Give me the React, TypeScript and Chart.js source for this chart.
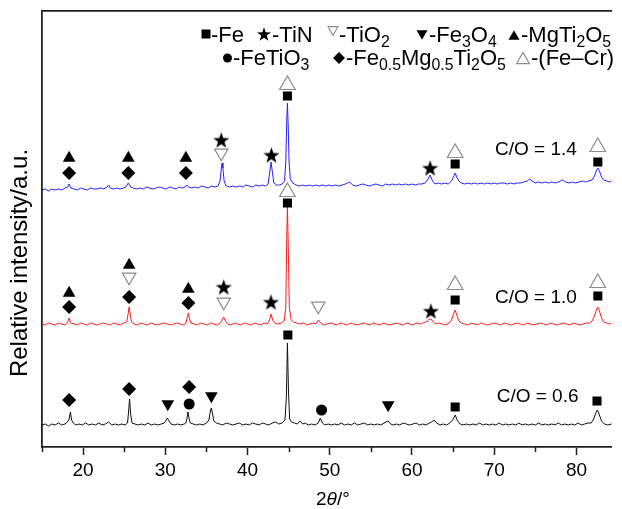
import React, { useEffect, useRef } from "react";
import { Chart, registerables } from "chart.js";

Chart.register(...registerables);

const W = 622;
const H = 509;
const FONT = '"Liberation Sans", Arial, Helvetica, sans-serif';

// ---- axes ----
const xMin = 15;
const xMax = 84.3;
const yMin = 0;
const yMax = 436;
const majorTicks = [20, 30, 40, 50, 60, 70, 80];
const minorTicks = [15, 25, 35, 45, 55, 65, 75];
const xTitle = ["2", "θ", "/°"];
const yTitle = "Relative intensity/a.u.";
const sampleLabels = ["C/O = 0.6", "C/O = 1.0", "C/O = 1.4"];

// ---- traces: [2θ (°), relative intensity (a.u.)] ----
const trace06: [number, number][] = [
  [15, 22], [15.4, 23], [15.8, 21], [16.2, 23], [16.6, 22], [17, 24], [17.4, 22], [17.8, 23], [18.1, 25], [18.3, 28], [18.45, 35], [18.6, 27], [18.8, 24], [19.1, 22], [19.5, 23], [19.9, 22], [20.3, 24], [20.7, 22], [21.1, 23], [21.5, 22], [21.9, 24], [22.3, 22], [22.7, 23], [23.1, 25], [23.5, 22], [23.9, 23], [24.3, 22], [24.7, 23], [25.1, 22], [25.4, 24], [25.52, 34], [25.65, 48], [25.78, 33], [25.95, 24], [26.3, 23], [26.7, 22], [27.1, 23], [27.5, 22], [27.9, 24], [28.3, 22], [28.7, 23], [29.1, 22], [29.5, 23], [29.85, 24], [30.05, 26], [30.25, 29], [30.45, 26], [30.7, 23], [31.1, 22], [31.5, 23], [31.9, 22], [32.3, 23], [32.5, 24], [32.62, 28], [32.75, 35], [32.9, 28], [33.05, 24], [33.4, 23], [33.8, 22], [34.2, 23], [34.6, 22], [35, 24], [35.3, 27], [35.5, 37], [35.6, 39], [35.75, 33], [35.9, 26], [36.2, 24], [36.6, 23], [37, 22], [37.4, 24], [37.8, 23], [38.2, 22], [38.6, 23], [39, 24], [39.4, 22], [39.8, 23], [40.2, 22], [40.6, 24], [41, 23], [41.4, 22], [41.8, 24], [42.2, 23], [42.6, 22], [43, 24], [43.4, 25], [43.8, 23], [44.2, 24], [44.55, 27], [44.72, 50], [44.85, 104], [44.98, 55], [45.12, 28], [45.35, 25], [45.7, 24], [46.05, 23], [46.4, 26], [46.7, 23], [47, 24], [47.4, 22], [47.8, 23], [48.2, 22], [48.6, 24], [48.85, 29], [49.1, 24], [49.4, 22], [49.8, 23], [50.2, 22], [50.6, 23], [51, 22], [51.4, 24], [51.8, 22], [52.2, 23], [52.6, 22], [53, 24], [53.4, 22], [53.8, 23], [54.2, 24], [54.6, 22], [55, 23], [55.4, 22], [55.8, 23], [56.2, 22], [56.6, 24], [56.85, 25], [57.1, 26], [57.4, 23], [57.7, 22], [58.1, 23], [58.5, 22], [58.9, 24], [59.3, 23], [59.7, 22], [60.1, 23], [60.5, 24], [60.9, 22], [61.3, 23], [61.7, 22], [62.1, 24], [62.4, 25], [62.7, 27], [63, 24], [63.4, 22], [63.8, 23], [64.2, 22], [64.6, 24], [64.95, 27], [65.25, 32], [65.55, 26], [65.85, 23], [66.2, 22], [66.6, 23], [67, 22], [67.4, 23], [67.8, 22], [68.2, 24], [68.6, 22], [69, 23], [69.4, 22], [69.8, 23], [70.2, 22], [70.6, 24], [71, 22], [71.4, 23], [71.8, 22], [72.2, 23], [72.6, 22], [73, 24], [73.4, 22], [73.8, 23], [74.2, 22], [74.6, 23], [75, 22], [75.4, 24], [75.8, 22], [76.2, 23], [76.6, 22], [77, 23], [77.4, 22], [77.8, 24], [78.2, 22], [78.6, 23], [79, 22], [79.4, 23], [79.8, 22], [80.2, 24], [80.6, 22], [81, 23], [81.4, 24], [81.8, 24], [82.1, 28], [82.35, 34], [82.55, 37], [82.75, 33], [83.05, 26], [83.4, 23], [83.8, 22], [84.3, 23],
];

const trace10: [number, number][] = [
  [15, 123], [15.4, 122], [15.8, 124], [16.2, 123], [16.6, 122], [17, 124], [17.4, 123], [17.8, 122], [18.1, 124], [18.3, 129], [18.5, 124], [18.9, 123], [19.3, 122], [19.7, 124], [20.1, 123], [20.5, 122], [20.9, 124], [21.3, 123], [21.7, 122], [22.1, 123], [22.5, 124], [22.9, 123], [23.3, 122], [23.7, 124], [24.1, 123], [24.5, 122], [24.9, 124], [25.3, 125], [25.45, 132], [25.6, 140], [25.75, 131], [25.9, 125], [26.2, 123], [26.6, 122], [27, 124], [27.4, 123], [27.8, 122], [28.2, 124], [28.6, 123], [29, 122], [29.4, 123], [29.8, 124], [30.2, 123], [30.6, 122], [31, 123], [31.4, 124], [31.8, 123], [32.2, 122], [32.5, 124], [32.65, 129], [32.8, 134], [32.95, 128], [33.1, 124], [33.5, 123], [33.9, 122], [34.3, 124], [34.7, 123], [35.1, 122], [35.5, 124], [35.9, 123], [36.3, 122], [36.7, 124], [36.9, 127], [37.1, 130], [37.3, 126], [37.6, 123], [38, 122], [38.4, 124], [38.8, 123], [39.2, 122], [39.6, 124], [40, 123], [40.4, 122], [40.8, 124], [41.2, 123], [41.6, 122], [42, 124], [42.4, 123], [42.65, 126], [42.85, 133], [43.05, 127], [43.3, 124], [43.7, 123], [44.1, 124], [44.45, 126], [44.65, 140], [44.78, 215], [44.85, 240], [44.93, 210], [45.08, 140], [45.3, 127], [45.6, 125], [46, 124], [46.4, 123], [46.8, 124], [47.2, 122], [47.6, 123], [48, 124], [48.3, 123], [48.6, 127], [48.9, 124], [49.3, 122], [49.7, 123], [50.1, 124], [50.5, 123], [50.9, 122], [51.3, 124], [51.7, 123], [52.1, 122], [52.5, 124], [52.9, 123], [53.3, 122], [53.7, 123], [54.1, 124], [54.5, 123], [54.9, 122], [55.3, 124], [55.7, 123], [56.1, 122], [56.5, 124], [56.9, 123], [57.3, 122], [57.7, 123], [58.1, 124], [58.5, 123], [58.9, 122], [59.3, 124], [59.7, 123], [60.1, 122], [60.5, 124], [60.9, 123], [61.3, 124], [61.7, 125], [62, 127], [62.3, 128], [62.6, 125], [62.9, 123], [63.3, 124], [63.7, 123], [64.1, 122], [64.5, 124], [64.8, 127], [65.05, 133], [65.25, 137], [65.45, 132], [65.7, 126], [66, 124], [66.4, 123], [66.8, 122], [67.2, 124], [67.6, 123], [68, 122], [68.4, 124], [68.8, 123], [69.2, 122], [69.6, 123], [70, 124], [70.4, 123], [70.8, 122], [71.2, 124], [71.6, 123], [72, 122], [72.4, 123], [72.8, 124], [73.2, 123], [73.6, 122], [74, 124], [74.4, 123], [74.8, 122], [75.2, 123], [75.6, 124], [76, 123], [76.4, 122], [76.8, 124], [77.2, 123], [77.6, 122], [78, 123], [78.4, 124], [78.8, 123], [79.2, 122], [79.6, 124], [80, 123], [80.4, 122], [80.8, 123], [81.2, 124], [81.6, 124], [81.9, 126], [82.2, 131], [82.45, 138], [82.6, 140], [82.8, 136], [83.05, 129], [83.3, 125], [83.7, 124], [84, 123], [84.3, 124],
];

const trace14: [number, number][] = [
  [15, 257], [15.4, 258], [15.8, 256], [16.2, 258], [16.6, 257], [17, 258], [17.4, 257], [17.8, 259], [18.1, 260], [18.3, 263], [18.5, 259], [18.9, 258], [19.3, 257], [19.7, 259], [20.1, 258], [20.5, 257], [20.9, 259], [21.3, 258], [21.7, 258], [22.1, 259], [22.5, 258], [22.9, 260], [23.1, 262], [23.3, 259], [23.7, 258], [24.1, 259], [24.5, 258], [24.9, 259], [25.2, 260], [25.5, 264], [25.8, 260], [26.1, 259], [26.5, 258], [26.9, 259], [27.3, 258], [27.7, 260], [28.1, 259], [28.5, 258], [28.9, 259], [29.3, 260], [29.7, 259], [30.1, 258], [30.5, 260], [30.9, 259], [31.3, 258], [31.7, 260], [32.1, 259], [32.4, 260], [32.6, 262], [32.8, 260], [33.2, 259], [33.6, 260], [34, 259], [34.4, 261], [34.8, 260], [35.2, 259], [35.6, 261], [36, 260], [36.4, 261], [36.65, 266], [36.8, 278], [36.9, 284], [37, 279], [37.15, 266], [37.4, 261], [37.8, 260], [38.2, 261], [38.6, 260], [39, 261], [39.4, 260], [39.8, 262], [40.2, 261], [40.6, 260], [41, 262], [41.4, 261], [41.8, 262], [42.2, 261], [42.5, 263], [42.7, 275], [42.85, 285], [43, 276], [43.2, 264], [43.5, 262], [43.9, 262], [44.2, 263], [44.5, 266], [44.65, 285], [44.76, 325], [44.85, 344], [44.94, 322], [45.05, 285], [45.2, 268], [45.5, 264], [45.9, 262], [46.3, 261], [46.7, 262], [47.1, 261], [47.5, 262], [47.9, 261], [48.3, 262], [48.7, 261], [49.1, 262], [49.5, 261], [49.9, 262], [50.3, 261], [50.7, 262], [51.1, 261], [51.5, 262], [51.9, 263], [52.4, 265], [52.8, 262], [53.2, 261], [53.6, 262], [54, 263], [54.4, 262], [54.8, 261], [55.2, 262], [55.6, 263], [56, 262], [56.4, 261], [56.8, 263], [57.2, 262], [57.6, 263], [58, 262], [58.4, 263], [58.8, 262], [59.2, 263], [59.6, 262], [60, 263], [60.4, 262], [60.8, 263], [61.2, 263], [61.6, 264], [61.9, 267], [62.2, 272], [62.5, 266], [62.8, 263], [63.2, 264], [63.6, 263], [64, 264], [64.4, 263], [64.8, 266], [65.05, 270], [65.25, 274], [65.45, 270], [65.7, 266], [66, 264], [66.4, 263], [66.8, 264], [67.2, 263], [67.6, 264], [68, 263], [68.4, 264], [68.8, 263], [69.2, 264], [69.6, 263], [70, 264], [70.4, 263], [70.8, 264], [71.2, 264], [71.6, 263], [72, 264], [72.4, 263], [72.8, 264], [73.2, 264], [73.6, 265], [74, 266], [74.3, 268], [74.6, 266], [75, 264], [75.4, 265], [75.8, 264], [76.2, 265], [76.6, 264], [77, 265], [77.4, 264], [77.8, 265], [78.3, 267], [78.7, 265], [79.1, 264], [79.5, 265], [79.9, 264], [80.3, 265], [80.7, 266], [81.1, 265], [81.5, 266], [81.9, 267], [82.2, 271], [82.45, 277], [82.6, 279], [82.8, 276], [83.05, 270], [83.3, 267], [83.7, 266], [84, 265], [84.3, 266],
];

// ---- phase marks: [2θ (°), marker level (a.u.)] ----
const feMarks: [number, number][] = [
  [44.85, 351], [65.25, 283], [82.6, 285],
  [44.85, 244], [65.25, 147], [82.6, 151],
  [44.9, 112], [65.25, 40], [82.5, 46],
];
const tinMarks: [number, number][] = [
  [36.8, 307], [42.9, 292], [62.2, 279],
  [37.1, 160], [42.85, 145], [62.3, 136],
];
const tio2Marks: [number, number][] = [
  [36.8, 294], [25.6, 170], [37.1, 145], [48.6, 141],
];
const fe3o4Marks: [number, number][] = [
  [30.3, 43], [35.6, 51], [57.1, 42],
];
const mgti2o5Marks: [number, number][] = [
  [18.3, 289], [25.5, 289], [32.5, 289],
  [18.3, 154], [25.6, 182], [32.8, 158],
];
const fetio3Marks: [number, number][] = [
  [32.9, 43], [49.0, 37],
];
const femgMarks: [number, number][] = [
  [18.3, 274], [25.5, 274], [32.5, 274],
  [18.3, 140], [25.6, 150], [32.8, 144],
  [18.3, 47], [25.6, 58], [32.9, 60],
];
const fecrMarks: [number, number][] = [
  [44.85, 362], [65.25, 294], [82.6, 300],
  [44.85, 255], [65.25, 162], [82.6, 164],
];

// ---- legend texts: segments [text, isSubscript] ----
type Seg = [string, boolean];
const legendRow1: { sym: string; text: Seg[] }[] = [
  { sym: "square", text: [["-Fe", false]] },
  { sym: "star", text: [["-TiN", false]] },
  { sym: "triDownOpen", text: [["-TiO", false], ["2", true]] },
  { sym: "triDown", text: [["-Fe", false], ["3", true], ["O", false], ["4", true]] },
  { sym: "triUp", text: [["-MgTi", false], ["2", true], ["O", false], ["5", true]] },
];
const legendRow2: { sym: string; text: Seg[] }[] = [
  { sym: "circle", text: [["-FeTiO", false], ["3", true]] },
  { sym: "diamond", text: [["-Fe", false], ["0.5", true], ["Mg", false], ["0.5", true], ["Ti", false], ["2", true], ["O", false], ["5", true]] },
  { sym: "triUpOpen", text: [["-(Fe–Cr)", false]] },
];

const OPEN_GREY = "#8c8c8c";

function starPath(ctx: CanvasRenderingContext2D, cx: number, cy: number, R: number) {
  const r = R * 0.4;
  ctx.beginPath();
  for (let i = 0; i < 10; i++) {
    const a = -Math.PI / 2 + (i * Math.PI) / 5;
    const rr = i % 2 === 0 ? R : r;
    const px = cx + rr * Math.cos(a);
    const py = cy + rr * Math.sin(a);
    if (i === 0) ctx.moveTo(px, py);
    else ctx.lineTo(px, py);
  }
  ctx.closePath();
}

function makeStar(R: number): HTMLCanvasElement {
  const size = Math.ceil(R * 2 + 2);
  const c = document.createElement("canvas");
  c.width = size;
  c.height = size;
  const g = c.getContext("2d")!;
  g.fillStyle = "#000";
  starPath(g, size / 2, size / 2 + 0.0955 * R, R);
  g.fill();
  return c;
}

function drawSym(ctx: CanvasRenderingContext2D, kind: string, cx: number, cy: number, s: number) {
  ctx.save();
  ctx.fillStyle = "#000";
  ctx.strokeStyle = OPEN_GREY;
  ctx.lineWidth = 1.1;
  const h = (s * Math.sqrt(3)) / 2;
  switch (kind) {
    case "square":
      ctx.fillRect(cx - s / 2, cy - s / 2, s, s);
      break;
    case "star":
      starPath(ctx, cx, cy + 0.0955 * (s / 1.9), s / 1.9);
      ctx.fill();
      break;
    case "circle":
      ctx.beginPath();
      ctx.arc(cx, cy, s / 2, 0, Math.PI * 2);
      ctx.fill();
      break;
    case "diamond":
      ctx.beginPath();
      ctx.moveTo(cx, cy - s / 2);
      ctx.lineTo(cx + s / 2, cy);
      ctx.lineTo(cx, cy + s / 2);
      ctx.lineTo(cx - s / 2, cy);
      ctx.closePath();
      ctx.fill();
      break;
    case "triUp":
    case "triUpOpen":
      ctx.beginPath();
      ctx.moveTo(cx, cy - h / 2);
      ctx.lineTo(cx + s / 2, cy + h / 2);
      ctx.lineTo(cx - s / 2, cy + h / 2);
      ctx.closePath();
      if (kind === "triUp") ctx.fill();
      else {
        ctx.fillStyle = "#fff";
        ctx.fill();
        ctx.stroke();
      }
      break;
    case "triDown":
    case "triDownOpen":
      ctx.beginPath();
      ctx.moveTo(cx - s / 2, cy - h / 2);
      ctx.lineTo(cx + s / 2, cy - h / 2);
      ctx.lineTo(cx, cy + h / 2);
      ctx.closePath();
      if (kind === "triDown") ctx.fill();
      else {
        ctx.fillStyle = "#fff";
        ctx.fill();
        ctx.stroke();
      }
      break;
  }
  ctx.restore();
}

function drawRich(ctx: CanvasRenderingContext2D, x: number, baseline: number, segs: Seg[], size: number) {
  let cx = x;
  ctx.textAlign = "left";
  ctx.textBaseline = "alphabetic";
  for (const [t, sub] of segs) {
    const fs = sub ? size * 0.72 : size;
    ctx.font = `${fs}px ${FONT}`;
    ctx.fillText(t, cx, sub ? baseline + size * 0.24 : baseline);
    cx += ctx.measureText(t).width;
  }
  return cx;
}

const overlayPlugin = {
  id: "overlay",
  afterDraw(chart: any) {
    const ctx: CanvasRenderingContext2D = chart.ctx;
    const xs = chart.scales.x;
    const ys = chart.scales.y;
    const area = chart.chartArea;
    ctx.save();

    // minor ticks
    ctx.strokeStyle = "#222";
    ctx.lineWidth = 1.5;
    for (const v of minorTicks) {
      const px = Math.round(xs.getPixelForValue(v)) + 0.5;
      ctx.beginPath();
      ctx.moveTo(px, area.bottom);
      ctx.lineTo(px, area.bottom + 5);
      ctx.stroke();
    }

    // sample labels
    ctx.fillStyle = "#000";
    ctx.font = `19px ${FONT}`;
    ctx.textAlign = "left";
    ctx.textBaseline = "middle";
    const anchors = [
      [70.3, 50],
      [70.1, 149],
      [70.1, 297],
    ];
    sampleLabels.forEach((lab, i) => {
      ctx.fillText(lab, xs.getPixelForValue(anchors[i][0]), ys.getPixelForValue(anchors[i][1]));
    });

    // x title with italic theta
    const tsz = 19;
    const parts: [string, string][] = [
      [xTitle[0], `${tsz}px ${FONT}`],
      [xTitle[1], `italic ${tsz}px ${FONT}`],
      [xTitle[2], `${tsz}px ${FONT}`],
    ];
    let total = 0;
    for (const [t, f] of parts) {
      ctx.font = f;
      total += ctx.measureText(t).width;
    }
    let tx = (area.left + area.right) / 2 + 6 - total / 2;
    ctx.textAlign = "left";
    ctx.textBaseline = "alphabetic";
    for (const [t, f] of parts) {
      ctx.font = f;
      ctx.fillText(t, tx, 505);
      tx += ctx.measureText(t).width;
    }

    // y title
    ctx.save();
    ctx.translate(27, 263);
    ctx.rotate(-Math.PI / 2);
    ctx.font = `24px ${FONT}`;
    ctx.textAlign = "center";
    ctx.textBaseline = "alphabetic";
    ctx.fillText(yTitle, 0, 0);
    ctx.restore();

    // legend
    const LS = 22;
    ctx.fillStyle = "#000";
    const row1Pos = [
      { cx: 206, cy: 34, s: 9, tx: 211 },
      { cx: 264, cy: 34, s: 14, tx: 272 },
      { cx: 333, cy: 31, s: 10, tx: 339 },
      { cx: 422, cy: 35, s: 11, tx: 429 },
      { cx: 514, cy: 35, s: 11, tx: 521 },
    ];
    legendRow1.forEach((it, i) => {
      const p = row1Pos[i];
      drawSym(ctx, it.sym, p.cx, p.cy, p.s);
      ctx.fillStyle = "#000";
      drawRich(ctx, p.tx, 42, it.text, LS);
    });
    const row2Pos = [
      { cx: 227.5, cy: 58, s: 9, tx: 233 },
      { cx: 339, cy: 58, s: 12, tx: 346 },
      { cx: 523, cy: 58, s: 13, tx: 531 },
    ];
    legendRow2.forEach((it, i) => {
      const p = row2Pos[i];
      drawSym(ctx, it.sym, p.cx, p.cy, p.s);
      ctx.fillStyle = "#000";
      drawRich(ctx, p.tx, 65, it.text, LS);
    });

    ctx.restore();
  },
};

const pts = (a: [number, number][]) => a.map(([x, y]) => ({ x, y }));

export default function App() {
  const ref = useRef<HTMLCanvasElement | null>(null);

  useEffect(() => {
    if (!ref.current) return;
    const star = makeStar(8.5);
    const lineDs = (data: [number, number][], color: string) => ({
      data: pts(data),
      showLine: true,
      borderColor: color,
      borderWidth: 1,
      pointRadius: 0,
      tension: 0,
      order: 2,
    });
    const markDs = (data: [number, number][], o: any) => ({
      data: pts(data),
      showLine: false,
      order: 1,
      pointBorderWidth: 0,
      pointBackgroundColor: "#000",
      pointBorderColor: "#000",
      ...o,
    });

    const chart = new Chart(ref.current, {
      type: "scatter",
      data: {
        datasets: [
          lineDs(trace06, "#111111"),
          lineDs(trace10, "#ff1e1e"),
          lineDs(trace14, "#2424ff"),
          markDs(feMarks, { pointStyle: "rect", pointRadius: 6.4 }),
          markDs(tinMarks, { pointStyle: star, pointRadius: 9 }),
          markDs(tio2Marks, {
            pointStyle: "triangle",
            pointRotation: 180,
            pointRadius: 7.7,
            pointBackgroundColor: "#fff",
            pointBorderColor: OPEN_GREY,
            pointBorderWidth: 1.2,
          }),
          markDs(fe3o4Marks, { pointStyle: "triangle", pointRotation: 180, pointRadius: 7.3 }),
          markDs(mgti2o5Marks, { pointStyle: "triangle", pointRadius: 7.3 }),
          markDs(fetio3Marks, { pointStyle: "circle", pointRadius: 5.5 }),
          markDs(femgMarks, { pointStyle: "rectRot", pointRadius: 7 }),
          markDs(fecrMarks, {
            pointStyle: "triangle",
            pointRadius: 9,
            pointBackgroundColor: "#fff",
            pointBorderColor: OPEN_GREY,
            pointBorderWidth: 1.2,
          }),
        ],
      },
      options: {
        animation: false,
        responsive: false,
        devicePixelRatio: 1,
        events: [],
        layout: { padding: { left: 42, top: 11, right: 0, bottom: 26 } },
        plugins: {
          legend: { display: false },
          tooltip: { enabled: false },
        },
        scales: {
          x: {
            type: "linear",
            position: "bottom",
            min: xMin,
            max: xMax,
            afterBuildTicks: (scale: any) => {
              scale.ticks = majorTicks.map((v) => ({ value: v }));
            },
            afterFit: (scale: any) => {
              scale.height = 36;
            },
            grid: {
              display: true,
              drawOnChartArea: false,
              drawTicks: true,
              tickLength: 8,
              tickWidth: 1.5,
              tickColor: "#222",
            },
            border: { display: true, color: "#222", width: 1.8 },
            ticks: {
              color: "#000",
              font: { family: FONT, size: 19 },
              padding: 4,
              maxRotation: 0,
              callback: (v: any) => String(v),
            },
          },
          x2: {
            type: "linear",
            position: "top",
            min: xMin,
            max: xMax,
            afterFit: (scale: any) => {
              scale.height = 0;
            },
            grid: { display: false, drawTicks: false },
            border: { display: true, color: "#222", width: 1.8 },
            ticks: { display: false },
          },
          y: {
            type: "linear",
            position: "left",
            min: yMin,
            max: yMax,
            afterFit: (scale: any) => {
              scale.width = 0;
            },
            grid: { display: false, drawTicks: false },
            border: { display: true, color: "#222", width: 1.8 },
            ticks: { display: false },
          },
        },
      },
      plugins: [overlayPlugin],
    } as any);

    return () => {
      chart.destroy();
    };
  }, []);

  return (
    <div style={{ position: "absolute", left: 0, top: 0, width: W, height: H, background: "#fff" }}>
      <canvas ref={ref} width={W} height={H} style={{ display: "block", width: W, height: H }} />
    </div>
  );
}
